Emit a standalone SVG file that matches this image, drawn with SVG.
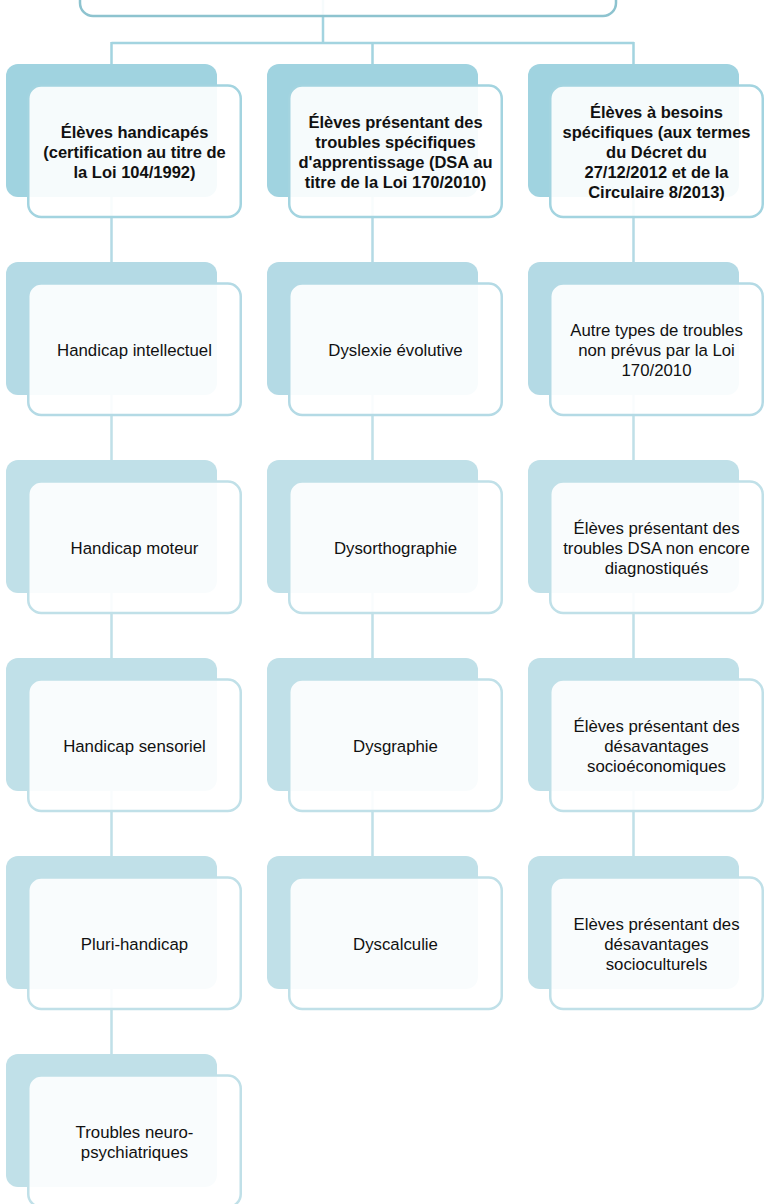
<svg xmlns="http://www.w3.org/2000/svg" width="769" height="1204" viewBox="0 0 769 1204">
<style>
.bg{fill:#ffffff}
.back{stroke:none}
.b0{fill:#A0D3E0}
.b1{fill:#B4DAE5}
.b2{fill:#C0E0E8}
.front{fill:#ffffff;fill-opacity:0.9;stroke-width:2.5}
.f0{stroke:#A3D4E0}
.f1{stroke:#B4DAE5}
.f2{stroke:#C0E0E8}
.top{fill:#ffffff;fill-opacity:0.9;stroke:#8DC3CF;stroke-width:2.5}
.conn{fill:none;stroke-width:2.5}
.c0{stroke:#A3D4E0}
.c1{stroke:#B4DAE5}
.c2{stroke:#C0E0E8}
text{font-family:"Liberation Sans",Arial,sans-serif;fill:#111111;text-anchor:middle}
.t{font-size:16.8px}
.tb{font-size:16.5px;font-weight:bold}
</style>
<rect class="bg" x="0" y="0" width="769" height="1204"/>
<g id="connectors">
<path class="conn c0" d="M323,0 V43 M111.5,43 H634 M111.5,42 V64 M372.5,42 V64 M633.5,42 V64"/>
<path class="conn c1" d="M111.5,197 V263 M372.5,197 V263 M633.5,197 V263"/>
<path class="conn c2" d="M111.5,395 V461 M372.5,395 V461 M633.5,395 V461 M111.5,593 V659 M372.5,593 V659 M633.5,593 V659 M111.5,791 V857 M372.5,791 V857 M633.5,791 V857 M111.5,989 V1055"/>
</g>
<g id="root">
<rect class="top" x="80" y="-120" width="536" height="136" rx="13"/>
</g>
<g id="n-c1-r0">
<rect class="back b0" x="6" y="64" width="211" height="133" rx="12"/>
<rect class="front f0" x="28.25" y="85.5" width="212.5" height="131.5" rx="13"/>
<text class="tb" x="134.5"><tspan x="134.5" y="137.5">Élèves handicapés</tspan><tspan x="134.5" y="157.5">(certification au titre de</tspan><tspan x="134.5" y="177.5">la Loi 104/1992)</tspan></text>
</g>
<g id="n-c2-r0">
<rect class="back b0" x="267" y="64" width="211" height="133" rx="12"/>
<rect class="front f0" x="289.25" y="85.5" width="212.5" height="131.5" rx="13"/>
<text class="tb" x="395.5"><tspan x="395.5" y="127.5">Élèves présentant des</tspan><tspan x="395.5" y="147.5">troubles spécifiques</tspan><tspan x="395.5" y="167.5">d'apprentissage (DSA au</tspan><tspan x="395.5" y="187.5">titre de la Loi 170/2010)</tspan></text>
</g>
<g id="n-c3-r0">
<rect class="back b0" x="528" y="64" width="211" height="133" rx="12"/>
<rect class="front f0" x="550.25" y="85.5" width="212.5" height="131.5" rx="13"/>
<text class="tb" x="656.5"><tspan x="656.5" y="117.5">Élèves à besoins</tspan><tspan x="656.5" y="137.5">spécifiques (aux termes</tspan><tspan x="656.5" y="157.5">du Décret du</tspan><tspan x="656.5" y="177.5">27/12/2012 et de la</tspan><tspan x="656.5" y="197.5">Circulaire 8/2013)</tspan></text>
</g>
<g id="n-c1-r1">
<rect class="back b1" x="6" y="262" width="211" height="133" rx="12"/>
<rect class="front f1" x="28.25" y="283.5" width="212.5" height="131.5" rx="13"/>
<text class="t" x="134.5" y="355.5">Handicap intellectuel</text>
</g>
<g id="n-c2-r1">
<rect class="back b1" x="267" y="262" width="211" height="133" rx="12"/>
<rect class="front f1" x="289.25" y="283.5" width="212.5" height="131.5" rx="13"/>
<text class="t" x="395.5" y="355.5">Dyslexie évolutive</text>
</g>
<g id="n-c3-r1">
<rect class="back b1" x="528" y="262" width="211" height="133" rx="12"/>
<rect class="front f1" x="550.25" y="283.5" width="212.5" height="131.5" rx="13"/>
<text class="t" x="656.5"><tspan x="656.5" y="335.5">Autre types de troubles</tspan><tspan x="656.5" y="355.5">non prévus par la Loi</tspan><tspan x="656.5" y="375.5">170/2010</tspan></text>
</g>
<g id="n-c1-r2">
<rect class="back b2" x="6" y="460" width="211" height="133" rx="12"/>
<rect class="front f2" x="28.25" y="481.5" width="212.5" height="131.5" rx="13"/>
<text class="t" x="134.5" y="553.5">Handicap moteur</text>
</g>
<g id="n-c2-r2">
<rect class="back b2" x="267" y="460" width="211" height="133" rx="12"/>
<rect class="front f2" x="289.25" y="481.5" width="212.5" height="131.5" rx="13"/>
<text class="t" x="395.5" y="553.5">Dysorthographie</text>
</g>
<g id="n-c3-r2">
<rect class="back b2" x="528" y="460" width="211" height="133" rx="12"/>
<rect class="front f2" x="550.25" y="481.5" width="212.5" height="131.5" rx="13"/>
<text class="t" x="656.5"><tspan x="656.5" y="533.5">Élèves présentant des</tspan><tspan x="656.5" y="553.5">troubles DSA non encore</tspan><tspan x="656.5" y="573.5">diagnostiqués</tspan></text>
</g>
<g id="n-c1-r3">
<rect class="back b2" x="6" y="658" width="211" height="133" rx="12"/>
<rect class="front f2" x="28.25" y="679.5" width="212.5" height="131.5" rx="13"/>
<text class="t" x="134.5" y="751.5">Handicap sensoriel</text>
</g>
<g id="n-c2-r3">
<rect class="back b2" x="267" y="658" width="211" height="133" rx="12"/>
<rect class="front f2" x="289.25" y="679.5" width="212.5" height="131.5" rx="13"/>
<text class="t" x="395.5" y="751.5">Dysgraphie</text>
</g>
<g id="n-c3-r3">
<rect class="back b2" x="528" y="658" width="211" height="133" rx="12"/>
<rect class="front f2" x="550.25" y="679.5" width="212.5" height="131.5" rx="13"/>
<text class="t" x="656.5"><tspan x="656.5" y="731.5">Élèves présentant des</tspan><tspan x="656.5" y="751.5">désavantages</tspan><tspan x="656.5" y="771.5">socioéconomiques</tspan></text>
</g>
<g id="n-c1-r4">
<rect class="back b2" x="6" y="856" width="211" height="133" rx="12"/>
<rect class="front f2" x="28.25" y="877.5" width="212.5" height="131.5" rx="13"/>
<text class="t" x="134.5" y="949.5">Pluri-handicap</text>
</g>
<g id="n-c2-r4">
<rect class="back b2" x="267" y="856" width="211" height="133" rx="12"/>
<rect class="front f2" x="289.25" y="877.5" width="212.5" height="131.5" rx="13"/>
<text class="t" x="395.5" y="949.5">Dyscalculie</text>
</g>
<g id="n-c3-r4">
<rect class="back b2" x="528" y="856" width="211" height="133" rx="12"/>
<rect class="front f2" x="550.25" y="877.5" width="212.5" height="131.5" rx="13"/>
<text class="t" x="656.5"><tspan x="656.5" y="929.5">Elèves présentant des</tspan><tspan x="656.5" y="949.5">désavantages</tspan><tspan x="656.5" y="969.5">socioculturels</tspan></text>
</g>
<g id="n-c1-r5">
<rect class="back b2" x="6" y="1054" width="211" height="133" rx="12"/>
<rect class="front f2" x="28.25" y="1075.5" width="212.5" height="131.5" rx="13"/>
<text class="t" x="134.5"><tspan x="134.5" y="1137.5">Troubles neuro-</tspan><tspan x="134.5" y="1157.5">psychiatriques</tspan></text>
</g>
</svg>
